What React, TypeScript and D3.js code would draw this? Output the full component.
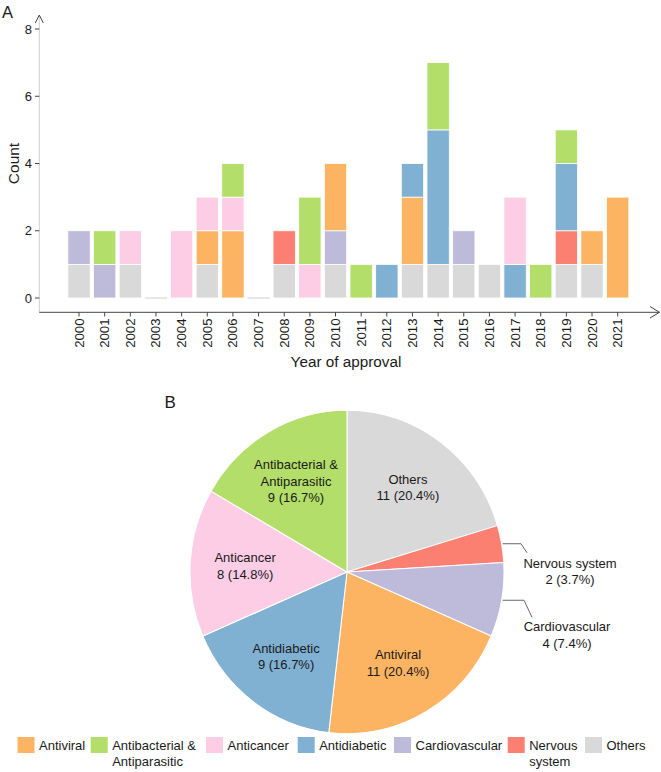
import React from "react";
import * as d3 from "d3";

// ---------------- data ----------------
const years = ["2000","2001","2002","2003","2004","2005","2006","2007","2008","2009","2010","2011","2012","2013","2014","2015","2016","2017","2018","2019","2020","2021"];
const antiviral      = [0,0,0,0,0,1,2,0,0,0,2,0,0,2,0,0,0,0,0,0,1,3];
const antibacterial  = [0,1,0,0,0,0,1,0,0,2,0,1,0,0,2,0,0,0,1,1,0,0];
const anticancer     = [0,0,1,0,2,1,1,0,0,1,0,0,0,0,0,0,0,2,0,0,0,0];
const antidiabetic   = [0,0,0,0,0,0,0,0,0,0,0,0,1,1,4,0,0,1,0,2,0,0];
const cardiovascular = [1,1,0,0,0,0,0,0,0,0,1,0,0,0,0,1,0,0,0,0,0,0];
const nervous        = [0,0,0,0,0,0,0,0,1,0,0,0,0,0,0,0,0,0,0,1,0,0];
const others         = [1,0,1,0,0,1,0,0,1,0,1,0,0,1,1,1,1,0,0,1,1,0];

const yTicks = [0, 2, 4, 6, 8];

// stack / pie order (bottom -> top, clockwise from 12 o'clock)
const seriesKeys = ["Others","Nervous system","Cardiovascular","Antiviral","Antidiabetic","Anticancer","Antibacterial & Antiparasitic"];
const seriesValues = [others, nervous, cardiovascular, antiviral, antidiabetic, anticancer, antibacterial];
const seriesColors = ["#D9D9D9","#FB8072","#BEBADA","#FDB462","#80B1D3","#FCCDE5","#B3DE69"];
const pieLabelNames = [["Others"],["Nervous system"],["Cardiovascular"],["Antiviral"],["Antidiabetic"],["Anticancer"],["Antibacterial &","Antiparasitic"]];
const outsideSlices = ["Nervous system","Cardiovascular"];

const legendKeys = ["Antiviral","Antibacterial & Antiparasitic","Anticancer","Antidiabetic","Cardiovascular","Nervous system","Others"];
const legendLabels = [["Antiviral"],["Antibacterial &","Antiparasitic"],["Anticancer"],["Antidiabetic"],["Cardiovascular"],["Nervous","system"],["Others"]];

// ---------------- layout ----------------
const W = 661, H = 772;
const FONT = "'Liberation Sans', Arial, sans-serif";
const TXT = "#1a1a1a";
const legendBoxX = [17.5, 90.7, 206, 297.7, 394, 507.7, 585];
const outsideLayout: Record<string, {ex:number; endX:number; endY:number; tx:number; ty:number}> = {
  "Nervous system": { ex: 17, endX: 23, endY: 9, tx: 66, ty: 24 },
  "Cardiovascular": { ex: 20, endX: 28, endY: 17, tx: 63, ty: 31 },
};

export default function App() {
  const colorOf = (k: string) => seriesColors[seriesKeys.indexOf(k)];

  // ----- bar chart -----
  const x = d3.scaleBand<string>().domain(years).range([66.2, 630.5]).paddingInner(0.13).paddingOuter(0.065);
  const y = d3.scaleLinear().domain([0, 8]).range([298, 29]);
  const rows = years.map((yr, i) => {
    const r: any = { year: yr };
    seriesKeys.forEach((k, j) => (r[k] = seriesValues[j][i]));
    return r;
  });
  const stacked = d3.stack<any>().keys(seriesKeys)(rows);
  const totals = years.map((_, i) => d3.sum(seriesValues, (s) => s[i]));

  // ----- pie -----
  const cx = 347, cy = 572, R = 157, SY = 1.03;
  const pieData = seriesKeys.map((k, j) => ({ key: k, value: d3.sum(seriesValues[j]), lines: pieLabelNames[j] }));
  const grand = d3.sum(pieData, (d) => d.value);
  const arcs = d3.pie<any>().sort(null).value((d) => d.value)(pieData);
  const arcGen = d3.arc<any>().innerRadius(0).outerRadius(R);
  const fmt = (v: number) => `${v} (${d3.format(".1f")((v / grand) * 100)}%)`;

  return (
    <svg width={W} height={H} style={{ position: "absolute", left: 0, top: 0, fontFamily: FONT }}>
      <rect width={W} height={H} fill="#fff" />
      {/* panel A */}
      <text x={2} y={18.3} fontSize={16.5} fill={TXT}>A</text>
      {/* y axis */}
      <line x1={39.3} x2={39.3} y1={15} y2={312.3} stroke="#cfcfcf" strokeWidth={1} />
      <polyline points="35.3,23 39.3,15 43.3,23" fill="none" stroke="#444" strokeWidth={1} />
      {yTicks.map((t) => (
        <g key={t}>
          <line x1={35} x2={39.3} y1={y(t)} y2={y(t)} stroke="#444" />
          <text x={32} y={y(t)} dy="0.35em" textAnchor="end" fontSize={13} fill={TXT}>{t}</text>
        </g>
      ))}
      <text transform={`translate(18.5,${y(4)}) rotate(-90)`} textAnchor="middle" fontSize={15.5} fill={TXT}>Count</text>
      {/* bars */}
      {stacked.map((s, j) => (
        <g key={s.key} fill={seriesColors[j]}>
          {s.map((d, i) =>
            d[1] - d[0] > 0 ? (
              <rect key={i} x={x(years[i])} width={x.bandwidth()} y={y(d[1])} height={y(d[0]) - y(d[1])} stroke="#fff" strokeWidth={0.8} />
            ) : null
          )}
        </g>
      ))}
      {years.map((yr, i) =>
        totals[i] === 0 ? (
          <line key={yr} x1={x(yr)} x2={(x(yr) as number) + x.bandwidth()} y1={y(0)} y2={y(0)} stroke="#d0d0d0" />
        ) : null
      )}
      {/* x axis */}
      <line x1={39.3} x2={659.5} y1={312.3} y2={312.3} stroke="#444" strokeWidth={1} />
      <polyline points="650,306.5 659.5,312.3 650,318" fill="none" stroke="#444" strokeWidth={1} />
      {years.map((yr) => {
        const c = (x(yr) as number) + x.bandwidth() / 2;
        return (
          <g key={yr}>
            <line x1={c} x2={c} y1={312.3} y2={316.5} stroke="#444" />
            <text transform={`translate(${c + 4.5},${318.5}) rotate(-90)`} textAnchor="end" fontSize={13.2} fill={TXT}>{yr}</text>
          </g>
        );
      })}
      <text x={346} y={367} textAnchor="middle" fontSize={15.3} fill={TXT}>Year of approval</text>

      {/* panel B */}
      <text x={164.5} y={408} fontSize={17} fill={TXT}>B</text>
      <g transform={`translate(${cx},${cy}) scale(1,${SY})`}>
        {arcs.map((a) => (
          <path key={a.data.key} d={arcGen(a) as string} fill={colorOf(a.data.key)} stroke="#fff" strokeWidth={1} />
        ))}
      </g>
      {arcs.map((a) => {
        const mid = (a.startAngle + a.endAngle) / 2;
        const lines = [...a.data.lines, fmt(a.data.value)];
        if (outsideSlices.includes(a.data.key)) {
          const L = outsideLayout[a.data.key];
          const sx = cx + Math.sin(mid) * (R + 1);
          const sy = cy - Math.cos(mid) * (R + 1) * SY;
          const ex = cx + R + L.ex;
          return (
            <g key={a.data.key}>
              <polyline points={`${sx},${sy} ${ex},${sy} ${ex + (L.endX - L.ex)},${sy + L.endY}`} fill="none" stroke="#555" strokeWidth={0.9} />
              {lines.map((ln, k) => (
                <text key={k} x={cx + R + L.tx} y={sy + L.ty + k * 16.3} textAnchor="middle" fontSize={13} fill={TXT}>{ln}</text>
              ))}
            </g>
          );
        }
        const rr = 102;
        const px = cx + Math.sin(mid) * rr;
        const py = cy - Math.cos(mid) * rr * SY;
        const n = lines.length;
        return (
          <g key={a.data.key}>
            {lines.map((ln, k) => (
              <text key={k} x={px} y={py - ((n - 1) * 16.3) / 2 + 4.6 + k * 16.3} textAnchor="middle" fontSize={13} fill={TXT}>{ln}</text>
            ))}
          </g>
        );
      })}

      {/* legend */}
      {legendKeys.map((k, i) => (
        <g key={k}>
          <rect x={legendBoxX[i]} y={737} width={17} height={16} fill={colorOf(k)} />
          {legendLabels[i].map((ln, j) => (
            <text key={j} x={legendBoxX[i] + 21.5} y={749.7 + j * 16} fontSize={13} fill={TXT}>{ln}</text>
          ))}
        </g>
      ))}
    </svg>
  );
}
